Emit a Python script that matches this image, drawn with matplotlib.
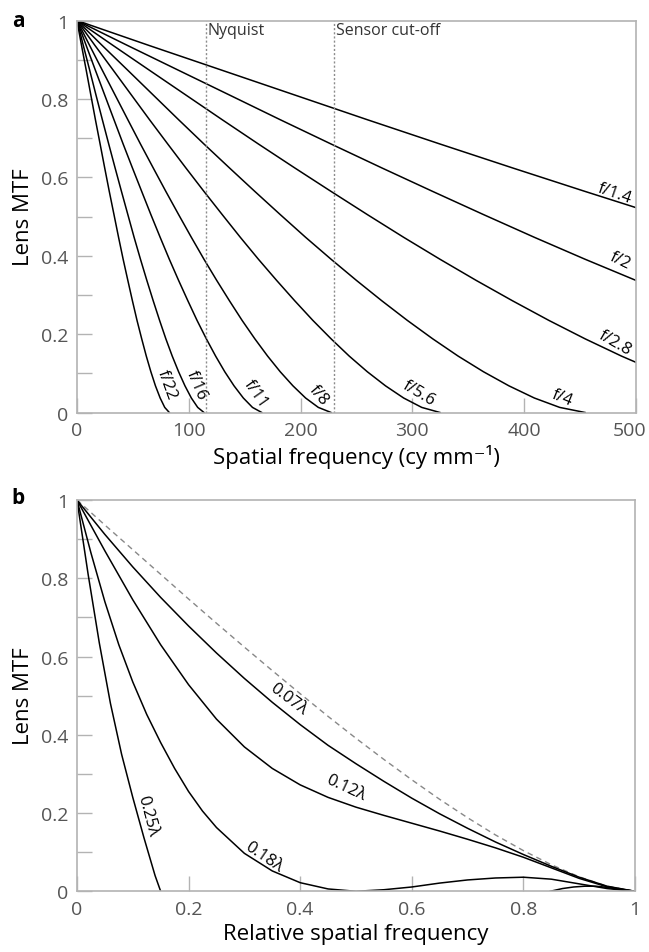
import numpy as np
import matplotlib
matplotlib.use("Agg")
import matplotlib.pyplot as plt
import matplotlib.transforms as mtransforms

plt.rcParams['font.family'] = ['Open Sans', 'DejaVu Sans']

# ---- panel a: diffraction-limited lens MTF for several apertures ----
# MTF levels read along each curve, and the spatial frequency (cy/mm) where each curve reaches them
mtf_levels = [1, 0.936, 0.873, 0.810, 0.747, 0.685, 0.624, 0.564, 0.505, 0.447, 0.391,
              0.337, 0.285, 0.235, 0.188, 0.144, 0.104, 0.068, 0.037, 0.013, 0]

f_numbers = ["f/22", "f/16", "f/11", "f/8", "f/5.6", "f/4", "f/2.8", "f/2", "f/1.4"]
freq_f22 = [0, 4.1, 8.3, 12.4, 16.5, 20.7, 24.8, 28.9, 33.1, 37.2, 41.3,
            45.5, 49.6, 53.7, 57.9, 62.0, 66.1, 70.2, 74.4, 78.5, 82.6]
freq_f16 = [0, 5.7, 11.4, 17.0, 22.7, 28.4, 34.1, 39.8, 45.5, 51.1, 56.8,
            62.5, 68.2, 73.9, 79.5, 85.2, 90.9, 96.6, 102.3, 108.0, 113.6]
freq_f11 = [0, 8.3, 16.5, 24.8, 33.1, 41.3, 49.6, 57.9, 66.1, 74.4, 82.6,
            90.9, 99.2, 107.4, 115.7, 124.0, 132.2, 140.5, 148.8, 157.0, 165.3]
freq_f8 = [0, 11.4, 22.7, 34.1, 45.5, 56.8, 68.2, 79.5, 90.9, 102.3, 113.6,
           125.0, 136.4, 147.7, 159.1, 170.5, 181.8, 193.2, 204.5, 215.9, 227.3]
freq_f56 = [0, 16.2, 32.5, 48.7, 64.9, 81.2, 97.4, 113.6, 129.9, 146.1, 162.3,
            178.6, 194.8, 211.0, 227.3, 243.5, 259.7, 276.0, 292.2, 308.4, 324.7]
freq_f4 = [0, 22.7, 45.5, 68.2, 90.9, 113.6, 136.4, 159.1, 181.8, 204.5, 227.3,
           250.0, 272.7, 295.5, 318.2, 340.9, 363.6, 386.4, 409.1, 431.8, 454.5]
freq_f28 = [0, 32.5, 64.9, 97.4, 129.9, 162.3, 194.8, 227.3, 259.7, 292.2, 324.7,
            357.1, 389.6, 422.1, 454.5, 487.0, 519.5]
freq_f2 = [0, 45.5, 90.9, 136.4, 181.8, 227.3, 272.7, 318.2, 363.6, 409.1, 454.5, 500.0]
freq_f14 = [0, 64.9, 129.9, 194.8, 259.7, 324.7, 389.6, 454.5, 519.5]
freq_curves = [freq_f22, freq_f16, freq_f11, freq_f8, freq_f56, freq_f4, freq_f28, freq_f2, freq_f14]

# label anchor (x, y) and rotation for each f-number
label_x = [80.5, 106.5, 159.5, 216.5, 306, 434, 481, 485.5, 480.5]
label_y = [0.072, 0.072, 0.050, 0.046, 0.050, 0.040, 0.180, 0.388, 0.560]
label_rot = [-70, -67, -55, -50, -31, -22, -30, -26, -19]

nyquist = 115
sensor_cutoff = 230

# ---- panel b: MTF with defocus wavefront error ----
rel_freq = [0, 0.05, 0.1, 0.15, 0.2, 0.25, 0.3, 0.35, 0.4, 0.45, 0.5,
            0.55, 0.6, 0.65, 0.7, 0.75, 0.8, 0.85, 0.9, 0.95, 1.0]
mtf_perfect = [1, 0.936, 0.873, 0.810, 0.747, 0.685, 0.624, 0.564, 0.505, 0.447, 0.391,
               0.337, 0.285, 0.235, 0.188, 0.144, 0.104, 0.068, 0.037, 0.013, 0]
mtf_007 = [1, 0.912, 0.829, 0.751, 0.678, 0.609, 0.544, 0.483, 0.426, 0.373, 0.326,
           0.281, 0.238, 0.198, 0.161, 0.126, 0.094, 0.064, 0.036, 0.013, 0]
mtf_012 = [1, 0.870, 0.745, 0.630, 0.528, 0.440, 0.369, 0.314, 0.272, 0.240, 0.215,
           0.194, 0.174, 0.154, 0.133, 0.111, 0.087, 0.060, 0.033, 0.0115, 0]
freq_018 = [0, 0.025, 0.05, 0.075, 0.1, 0.125, 0.15, 0.175, 0.2, 0.225, 0.25, 0.3, 0.35, 0.4,
            0.45, 0.5, 0.55, 0.6, 0.65, 0.7, 0.75, 0.8, 0.85, 0.9, 0.95, 1.0]
mtf_018 = [1, 0.865, 0.740, 0.630, 0.535, 0.452, 0.380, 0.314, 0.255, 0.205, 0.163, 0.097, 0.052,
           0.022, 0.006, 0.0, 0.004, 0.011, 0.021, 0.029, 0.034, 0.036, 0.031, 0.019, 0.007, 0]
freq_025 = [0, 0.02, 0.04, 0.06, 0.08, 0.1, 0.12, 0.14, 0.15]
mtf_025 = [1, 0.810, 0.635, 0.480, 0.350, 0.240, 0.137, 0.040, 0]
freq_025_lobe = [0.848, 0.87, 0.89, 0.91, 0.93, 0.95, 0.97, 1.0]
mtf_025_lobe = [0, 0.007, 0.011, 0.013, 0.013, 0.010, 0.005, 0]

err_labels = ["0.07λ", "0.12λ", "0.18λ", "0.25λ"]
err_label_x = [0.378, 0.482, 0.334, 0.126]
err_label_y = [0.492, 0.266, 0.088, 0.194]
err_label_rot = [-37, -25, -34, -75]

spine_grey = "#b3b3b3"
tick_text = "#555555"


def style_axes(ax):
    for s in ax.spines.values():
        s.set_color(spine_grey)
        s.set_linewidth(1.2)
    ax.tick_params(which="both", direction="in", length=11, width=1.0,
                   color=spine_grey, labelcolor=tick_text, labelsize=14, pad=6)
    ax.set_ylim(0, 1)
    ax.set_yticks([0, 0.2, 0.4, 0.6, 0.8, 1.0])
    ax.set_yticklabels(["0", "0.2", "0.4", "0.6", "0.8", "1"])
    ax.set_yticks([0.1, 0.3, 0.5, 0.7, 0.9], minor=True)
    ax.set_ylabel("Lens MTF", fontsize=16, labelpad=5)


fig = plt.figure(figsize=(6.49, 9.53), dpi=100)
ax1 = fig.add_axes([0.1186, 0.5661, 0.8613, 0.4113])
ax2 = fig.add_axes([0.1186, 0.0637, 0.8598, 0.4106])

# panel a
for freqs in freq_curves:
    ax1.plot(freqs, mtf_levels[:len(freqs)], color="black", lw=1.1)
for name, lx, ly, rot in zip(f_numbers, label_x, label_y, label_rot):
    ax1.text(lx, ly, name, rotation=rot, ha="center", va="center",
             fontsize=12, rotation_mode="anchor")

ax1.axvline(nyquist, color="#8c8c8c", lw=1, ls=(0, (1.5, 1.5)))
ax1.axvline(sensor_cutoff, color="#8c8c8c", lw=1, ls=(0, (1.5, 1.5)))
ax1.text(nyquist + 1.5, 0.997, "Nyquist", ha="left", va="top", fontsize=11.5, color="#333333")
ax1.text(sensor_cutoff + 1.5, 0.997, "Sensor cut-off", ha="left", va="top", fontsize=11.5, color="#333333")

style_axes(ax1)
ax1.set_xlim(0, 500)
ax1.set_xticks([0, 100, 200, 300, 400, 500])
ax1.set_xlabel("Spatial frequency (cy mm⁻¹)", fontsize=16, labelpad=4)
# keep the last tick label inside the figure, as in the original
last = ax1.xaxis.get_major_ticks()[-1].label1
last.set_transform(last.get_transform() + mtransforms.ScaledTranslation(-0.06, 0, fig.dpi_scale_trans))

# panel b
ax2.plot(rel_freq, mtf_perfect, color="#888888", lw=1, ls=(0, (4, 3)))
ax2.plot(rel_freq, mtf_007, color="black", lw=1.1)
ax2.plot(rel_freq, mtf_012, color="black", lw=1.1)
ax2.plot(freq_018, mtf_018, color="black", lw=1.1)
ax2.plot(freq_025, mtf_025, color="black", lw=1.1)
ax2.plot(freq_025_lobe, mtf_025_lobe, color="black", lw=1.1)
for name, lx, ly, rot in zip(err_labels, err_label_x, err_label_y, err_label_rot):
    ax2.text(lx, ly, name, rotation=rot, ha="center", va="center",
             fontsize=12, rotation_mode="anchor")

style_axes(ax2)
ax2.set_xlim(0, 1)
ax2.set_xticks([0, 0.2, 0.4, 0.6, 0.8, 1.0])
ax2.set_xticklabels(["0", "0.2", "0.4", "0.6", "0.8", "1"])
ax2.set_xlabel("Relative spatial frequency", fontsize=16, labelpad=4)

fig.text(0.018, 0.977, "a", fontsize=15, fontweight="bold", va="center")
fig.text(0.018, 0.477, "b", fontsize=15, fontweight="bold", va="center")

fig.savefig("out.png", dpi=100)
